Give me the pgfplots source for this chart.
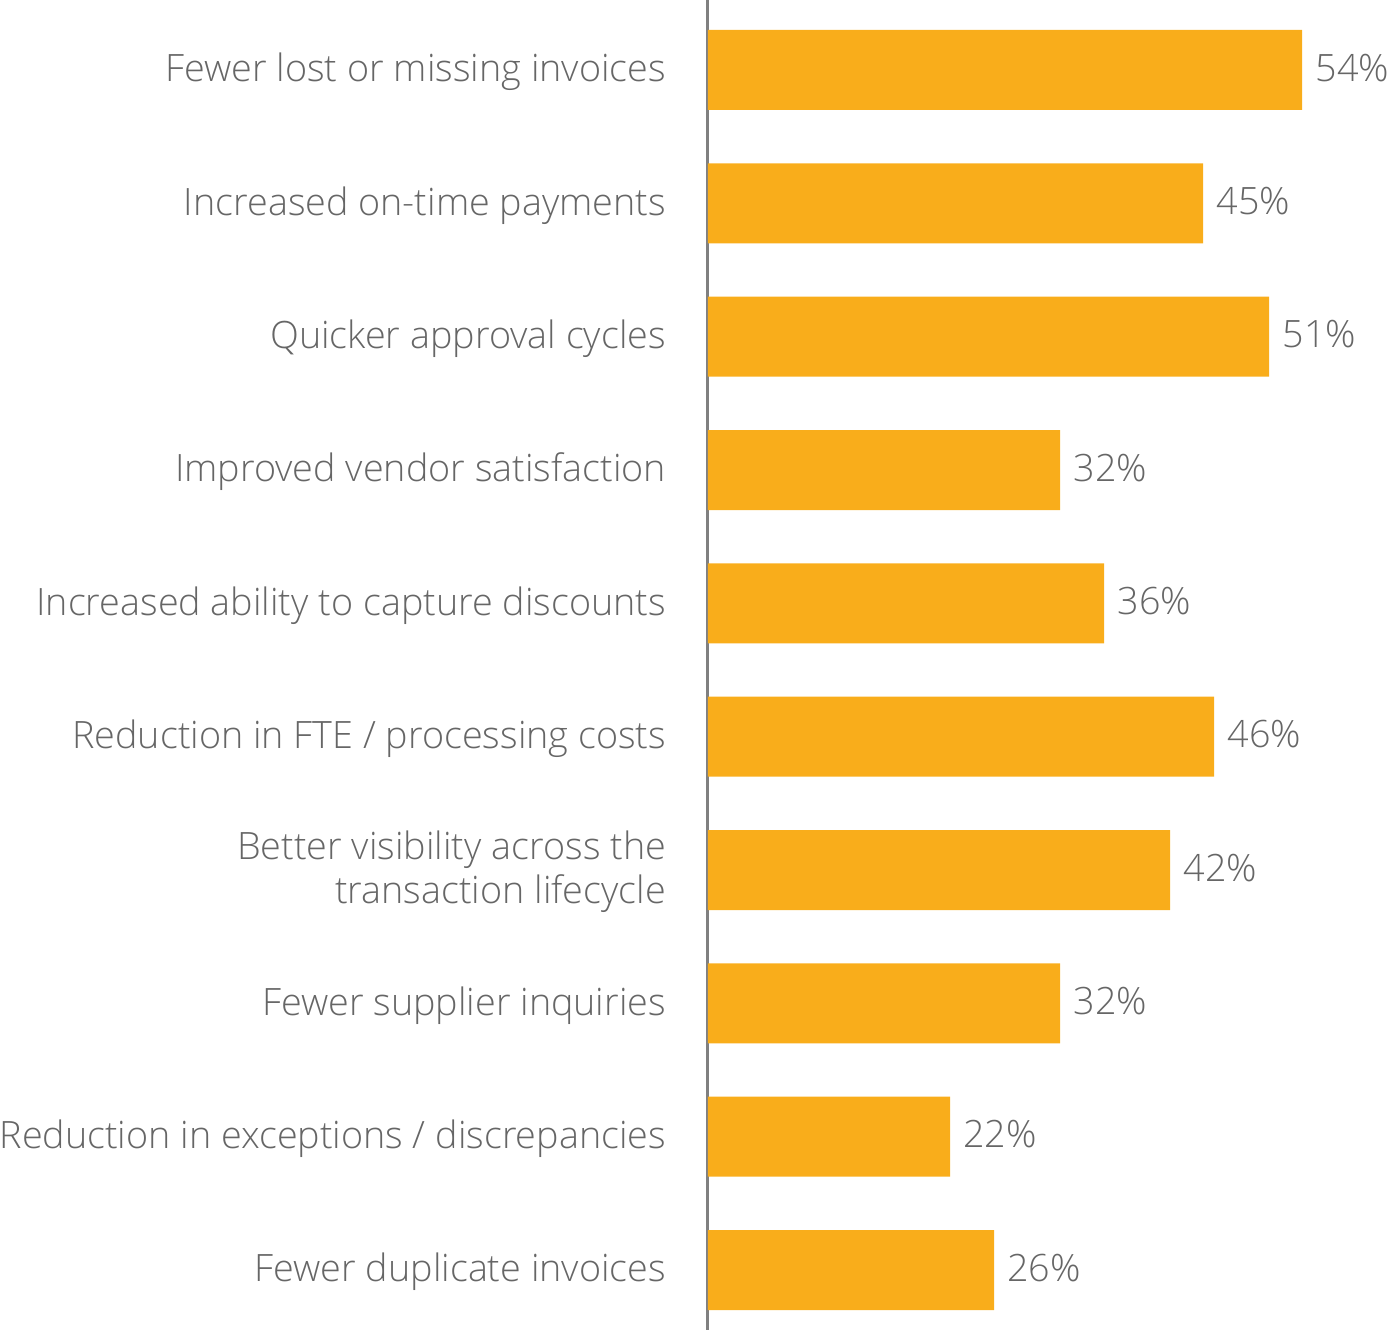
\documentclass[border=0pt]{standalone}
\usepackage{fontspec}
\setmainfont{Open Sans Light}
\usepackage{pgfplots}
\pgfplotsset{compat=1.18}
\definecolor{barc}{HTML}{F9AD1B}
\definecolor{txt}{HTML}{666666}
\definecolor{axc}{HTML}{808080}
\begin{document}
\begin{tikzpicture}
\useasboundingbox (-354pt,0pt) rectangle (340pt,665pt);
\begin{axis}[
  at={(0pt,0pt)}, anchor=south west,
  scale only axis, width=340pt, height=665pt,
  xbar, bar width=40pt,
  xmin=0, xmax=61.8,
  ymin=-0.525, ymax=9.45, y dir=reverse,
  axis x line=none,
  axis y line=left,
  y axis line style={axc, line width=1.5pt, -},
  major tick length=0pt,
  /pgf/number format/assume math mode=true,
  ytick={0,...,9},
  yticklabels={Fewer lost or missing invoices, Increased on-time payments, Quicker approval cycles, Improved vendor satisfaction, Increased ability to capture discounts, Reduction in FTE / processing costs, {Better visibility across the\\transaction lifecycle}, Fewer supplier inquiries, Reduction in exceptions / discrepancies, Fewer duplicate invoices},
  yticklabel style={align=right, inner sep=0pt, xshift=-20.8pt, yshift=-1pt, font=\fontsize{18.85}{22}\selectfont, text=txt},
  point meta=x,
  nodes near coords={\pgfmathprintnumber{\pgfplotspointmeta}\%},
  nodes near coords style={font=\fontsize{18.85}{22}\selectfont, text=txt, anchor=west, inner sep=0pt, xshift=6.5pt, yshift=1.2pt},
  clip=false,
]
\addplot[fill=barc, draw=none] coordinates {(54,0) (45,1) (51,2) (32,3) (36,4) (46,5) (42,6) (32,7) (22,8) (26,9)};
\end{axis}
\end{tikzpicture}
\end{document}
